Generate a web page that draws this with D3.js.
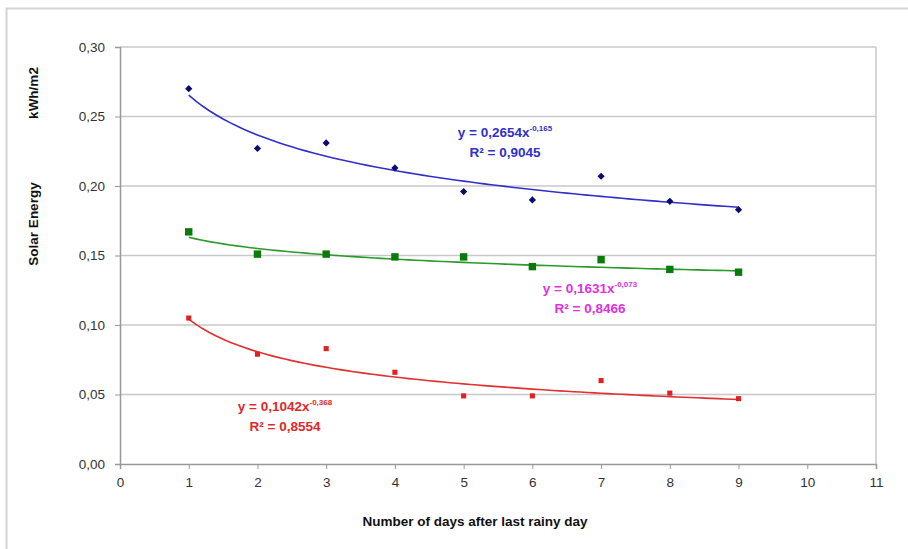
<!DOCTYPE html>
<html>
<head>
<meta charset="utf-8">
<script src="https://cdn.jsdelivr.net/npm/d3@7"></script>
<style>
  body { margin: 0; background: #fff; }
  svg { font-family: Arial, 'Liberation Sans', sans-serif; }
  .tick text { fill: #333; font-size: 13.5px; }
</style>
</head>
<body>
<svg width="908" height="549"></svg>
<script>
const days = [1, 2, 3, 4, 5, 6, 7, 8, 9]
const blueVals = [0.270, 0.227, 0.231, 0.213, 0.196, 0.190, 0.207, 0.189, 0.183]
const greenVals = [0.167, 0.151, 0.151, 0.149, 0.149, 0.142, 0.147, 0.140, 0.138]
const redVals = [0.105, 0.079, 0.083, 0.066, 0.049, 0.049, 0.060, 0.051, 0.047]

// power trend lines y = a * x^b, as printed on the chart
const trendA = [0.2654, 0.1631, 0.1042]
const trendB = [-0.165, -0.073, -0.368]
const eqLabels = [
  ['y = 0,2654x', '-0,165', 'R² = 0,9045'],
  ['y = 0,1631x', '-0,073', 'R² = 0,8466'],
  ['y = 0,1042x', '-0,368', 'R² = 0,8554']
]
const xTicks = d3.range(0, 12)
const yTicks = [0, 0.05, 0.10, 0.15, 0.20, 0.25, 0.30]

const svg = d3.select('svg')
const margin = {top: 47, right: 32, bottom: 85, left: 120}
const width = +svg.attr('width') - margin.left - margin.right
const height = +svg.attr('height') - margin.top - margin.bottom

// outer chart frame
svg.append('rect')
  .attr('x', 6.5).attr('y', 8.5)
  .attr('width', 920).attr('height', 560)
  .attr('fill', 'none')
  .attr('stroke', '#d4d4d4')
  .attr('stroke-width', 2)

const g = svg.append('g').attr('transform', `translate(${margin.left},${margin.top})`)

const x = d3.scaleLinear().domain([0, 11]).range([0, width])
const y = d3.scaleLinear().domain([0, 0.30]).range([height, 0])

const fmt = d3.format('.2f')

// gridlines
g.append('g')
  .selectAll('line')
  .data(yTicks.slice(1))
  .join('line')
  .attr('x1', 0).attr('x2', width)
  .attr('y1', (d) => y(d)).attr('y2', (d) => y(d))
  .attr('stroke', '#c8c8c8')
  .attr('stroke-width', 1.5)

// plot area frame (right side)
g.append('line')
  .attr('x1', width).attr('x2', width)
  .attr('y1', 0).attr('y2', height)
  .attr('stroke', '#c8c8c8')
  .attr('stroke-width', 1.5)

const xAxis = g.append('g')
  .attr('transform', `translate(0,${height})`)
  .call(d3.axisBottom(x).tickValues(xTicks).tickSize(5).tickPadding(8).tickFormat(d3.format('d')))
const yAxis = g.append('g')
  .call(d3.axisLeft(y).tickValues(yTicks).tickSize(5).tickPadding(10)
    .tickFormat((d) => fmt(d).replace('.', ',')))

;[xAxis, yAxis].forEach((a) => {
  a.select('.domain').attr('stroke', '#999').attr('stroke-width', 1.5)
  a.selectAll('.tick line').attr('stroke', '#999')
})

const series = [
  {vals: blueVals, line: '#3030c8', mark: '#0a0a70', text: '#3030cc', shape: d3.symbolSquare, size: 26, rot: 45},
  {vals: greenVals, line: '#2a9a2a', mark: '#0a7a0a', text: '#e030e0', shape: d3.symbolSquare, size: 55, rot: 0},
  {vals: redVals, line: '#e03030', mark: '#e02020', text: '#e02828', shape: d3.symbolSquare, size: 26, rot: 0}
]

const curve = d3.line()
  .x((d) => x(d[0]))
  .y((d) => y(d[1]))

series.forEach((s, i) => {
  const pts = d3.range(1, 9.001, 0.1).map((t) => [t, trendA[i] * Math.pow(t, trendB[i])])
  g.append('path')
    .datum(pts)
    .attr('d', curve)
    .attr('fill', 'none')
    .attr('stroke', s.line)
    .attr('stroke-width', 1.6)

  g.append('g')
    .selectAll('path')
    .data(s.vals)
    .join('path')
    .attr('transform', (d, j) => `translate(${x(days[j])},${y(d)}) rotate(${s.rot})`)
    .attr('d', d3.symbol().type(s.shape).size(s.size))
    .attr('fill', s.mark)
})

// equation labels
const eqPos = [[385, 90], [470, 246], [165, 364]]
eqLabels.forEach((lab, i) => {
  const t = g.append('text')
    .attr('x', eqPos[i][0]).attr('y', eqPos[i][1])
    .attr('text-anchor', 'middle')
    .attr('fill', series[i].text)
    .attr('font-size', 13.5)
    .attr('font-weight', 'bold')
  t.append('tspan').text(lab[0])
  t.append('tspan').attr('dy', -6).attr('font-size', 8).text(lab[1])
  g.append('text')
    .attr('x', eqPos[i][0]).attr('y', eqPos[i][1] + 20)
    .attr('text-anchor', 'middle')
    .attr('fill', series[i].text)
    .attr('font-size', 13.5)
    .attr('font-weight', 'bold')
    .text(lab[2])
})

// axis titles
svg.append('text')
  .attr('x', margin.left + width / 2 - 23).attr('y', 526)
  .attr('text-anchor', 'middle')
  .attr('font-size', 13.5)
  .attr('font-weight', 'bold')
  .attr('fill', '#111')
  .text('Number of days after last rainy day')

svg.append('text')
  .attr('transform', 'translate(38,224) rotate(-90)')
  .attr('text-anchor', 'middle')
  .attr('font-size', 13.5)
  .attr('font-weight', 'bold')
  .attr('fill', '#111')
  .text('Solar Energy')

svg.append('text')
  .attr('transform', 'translate(38,93) rotate(-90)')
  .attr('text-anchor', 'middle')
  .attr('font-size', 13.5)
  .attr('font-weight', 'bold')
  .attr('fill', '#111')
  .text('kWh/m2')
</script>
</body>
</html>
